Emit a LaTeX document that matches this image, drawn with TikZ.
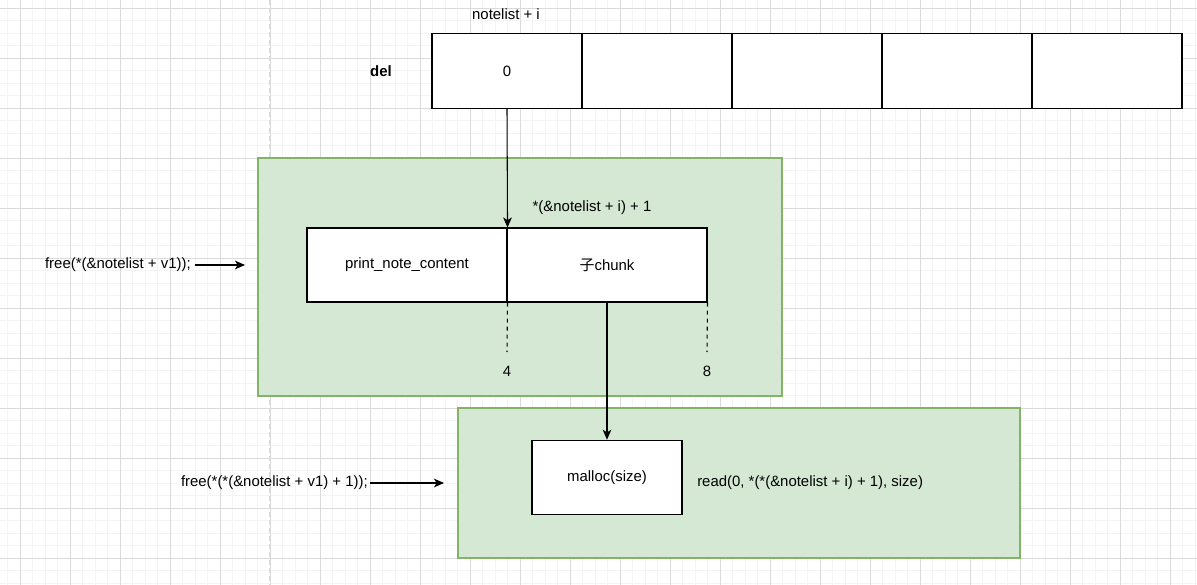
\documentclass[tikz,border=0pt]{standalone}
\usepackage{fontspec}
\setmainfont{Liberation Sans}
\newfontfamily\cjk{Noto Sans CJK SC}
\usepackage{tikz}
\usetikzlibrary{arrows.meta}
\usetikzlibrary{positioning}
\definecolor{gridminor}{RGB}{244,244,244}
\definecolor{gridmajor}{RGB}{218,218,218}
\definecolor{greenfill}{RGB}{213,232,212}
\definecolor{greenline}{RGB}{130,179,102}

\tikzset{
  cell/.style={draw=black, line width=0.8pt, fill=white, minimum width=112.5pt, minimum height=55.9pt, inner sep=0pt},
  chunkbox/.style={draw=black, line width=0.8pt, fill=white, minimum width=150pt, minimum height=55.5pt, inner sep=0pt},
  group/.style={draw=greenline, line width=0.8pt, fill=greenfill, inner sep=0pt},
  txt/.style={inner sep=0pt, font=\fontsize{11.2}{13}\selectfont},
  ptr/.style={line width=0.8pt, -{Stealth[length=7.5pt, width=6.5pt, inset=2pt]}},
  offs/.style={line width=0.8pt, dash pattern=on 3pt off 3pt}
}

\begin{document}
\begin{tikzpicture}[line cap=butt,line join=miter,x=0.75pt,y=-0.75pt]
\useasboundingbox (0,0) rectangle (1197,585);
% background grid
\foreach \x in {7.5,20,...,1197}
\draw[gridminor, line width=0.5pt] (\x,0) -- (\x,585);
\foreach \y in {-4.2,8.3,...,585}
\draw[gridminor, line width=0.5pt] (0,\y) -- (1197,\y);
\foreach \x in {20,70,...,1197}
\draw[gridmajor, line width=0.6pt] (\x,0) -- (\x,585);
\foreach \y in {8.3,58.3,...,585}
\draw[gridmajor, line width=0.6pt] (0,\y) -- (1197,\y);
\draw[gridmajor, line width=0.8pt, dash pattern=on 4pt off 2pt] (270,0) -- (270,585);

% notelist array
\node[cell] (c0) at (507,71) {};
\foreach \i/\x in {1/657,2/807,3/957,4/1107}
\node[cell] (c\i) at (\x,71) {};
\node[txt] (zero) at (c0) {0};
\node[txt] (lbllist) at (506,14) {notelist + i};
\node[txt, font=\fontsize{11.2}{13}\selectfont\bfseries] (lbldel) at (381,71) {del};

% first chunk
\node[group, minimum width=393pt, minimum height=178.5pt] (g1) at (520,277) {};
\node[chunkbox] (pnc) at (407,265) {};
\node[chunkbox] (sub) at (607,265) {};
\node[txt] at (pnc) {print\_note\_content};
\node[txt] at (sub) {{\cjk 子}chunk};
\node[txt] (lblsub) at (592,208) {*(\&notelist + i) + 1};
\coordinate (d4) at (507,352);
\coordinate (d8) at (707,352);
\draw[offs] (pnc.south east) -- (d4);
\draw[offs] (sub.south east) -- (d8);
\node[txt] (n4) at (507,371) {4};
\node[txt] (n8) at (707,371) {8};

% second chunk
\node[group, minimum width=421.5pt, minimum height=112.5pt] (g2) at (739,483) {};
\node[cell] (mal) at (607,477.5) {};
\node[txt] at (mal) {malloc(size)};
\node[txt, anchor=west] (lblread) at (697,483) {read(0, *(*(\&notelist + i) + 1), size)};

% pointers
\draw[ptr] (c0.south) -- (pnc.north east);
\draw[ptr] (sub.south) -- (mal.north);

% free calls
\node[txt, anchor=east] (free1) at (191,265) {free(*(\&notelist + v1));};
\coordinate (a1) at (245,265);
\draw[ptr] ([xshift=3pt]free1.east) -- (a1);
\node[txt, anchor=east] (free2) at (368,483) {free(*(*(\&notelist + v1) + 1));};
\coordinate (a2) at (444,483);
\draw[ptr] ([xshift=1.5pt]free2.east) -- (a2);
\end{tikzpicture}
\end{document}
